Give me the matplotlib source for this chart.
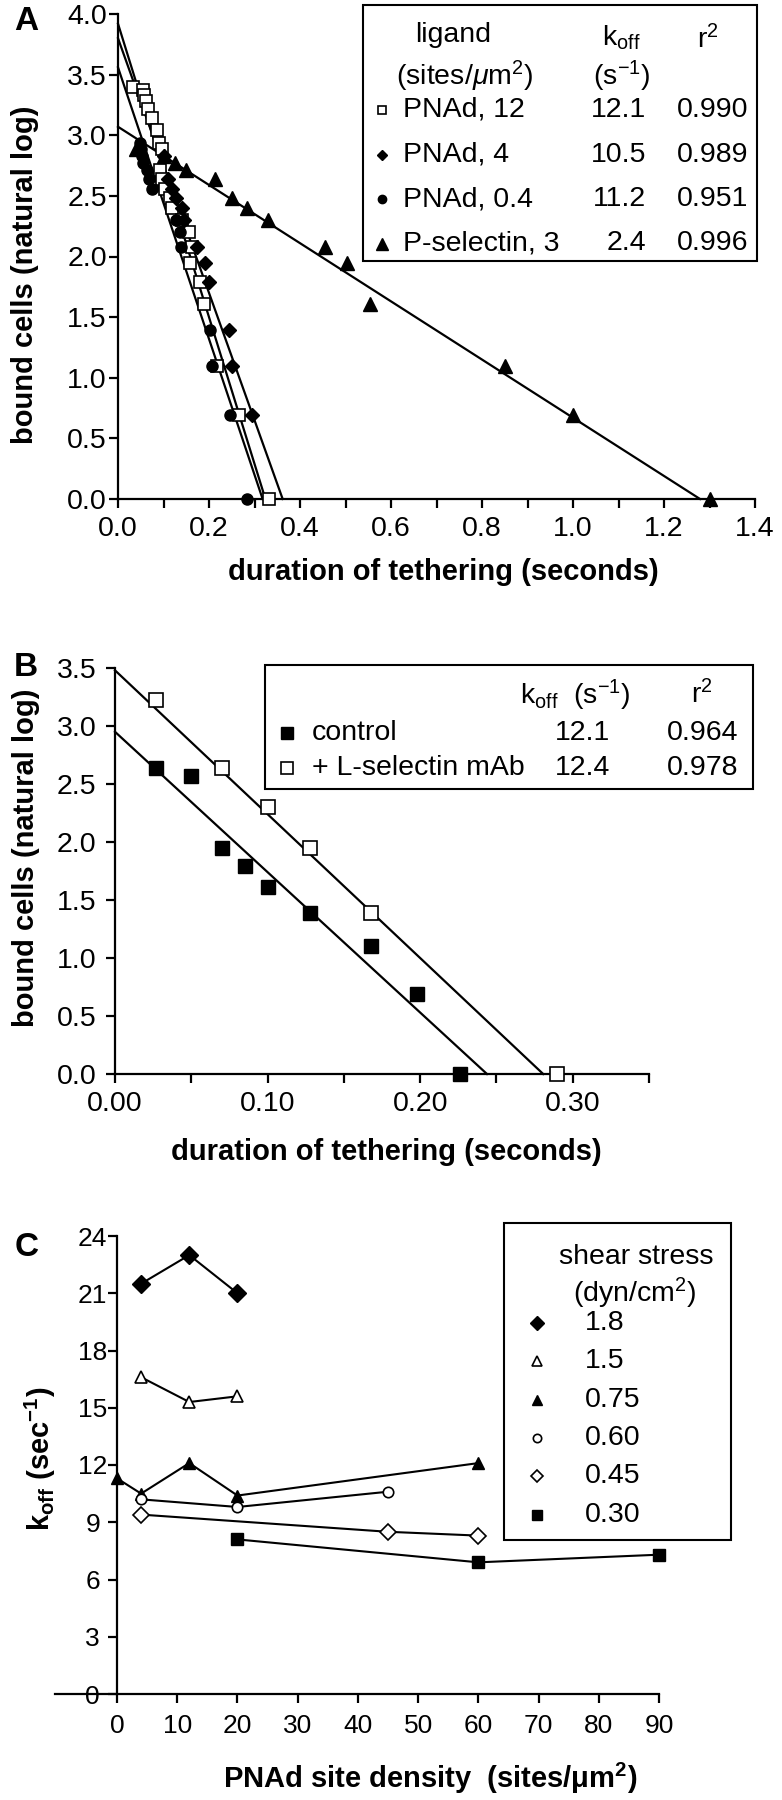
import numpy as np
import matplotlib
matplotlib.use("Agg")
import matplotlib.pyplot as plt
from matplotlib.lines import Line2D
from matplotlib.patches import Rectangle

# ---------- data : panel A (ln of bound cells vs tether duration) ----------
a_sq_x = [0.034, 0.054, 0.057, 0.062, 0.065, 0.074, 0.085, 0.091, 0.096, 0.092, 0.096, 0.103,
          0.114, 0.118, 0.140, 0.155, 0.162, 0.158, 0.180, 0.188, 0.217, 0.267, 0.332]
a_sq_y = [3.40, 3.37, 3.33, 3.28, 3.22, 3.14, 3.04, 2.94, 2.89, 2.71, 2.64, 2.56,
          2.48, 2.40, 2.30, 2.20, 2.08, 1.95, 1.79, 1.61, 1.10, 0.69, 0.00]
a_di_x = [0.100, 0.110, 0.118, 0.128, 0.140, 0.145, 0.173, 0.192, 0.200, 0.243, 0.250, 0.294]
a_di_y = [2.83, 2.64, 2.56, 2.48, 2.40, 2.30, 2.08, 1.95, 1.79, 1.39, 1.10, 0.69]
a_ci_x = [0.048, 0.050, 0.053, 0.056, 0.063, 0.069, 0.074, 0.127, 0.136, 0.138, 0.202, 0.206, 0.246, 0.283]
a_ci_y = [2.94, 2.89, 2.83, 2.77, 2.71, 2.64, 2.56, 2.30, 2.20, 2.08, 1.39, 1.10, 0.69, 0.00]
a_tr_x = [0.040, 0.100, 0.125, 0.150, 0.213, 0.250, 0.283, 0.330, 0.455, 0.503, 0.554, 0.850, 1.000, 1.300]
a_tr_y = [2.89, 2.83, 2.77, 2.71, 2.64, 2.48, 2.40, 2.30, 2.08, 1.95, 1.61, 1.10, 0.69, 0.00]
a_names = ["PNAd, 12", "PNAd, 4", "PNAd, 0.4", "P-selectin, 3"]
a_koff = [12.1, 10.5, 11.2, 2.4]
a_r2 = ["0.990", "0.989", "0.951", "0.996"]
a_icpt = [3.92, 3.80, 3.56, 3.07]      # fitted line at t = 0
a_xticks = [0.0, 0.1, 0.2, 0.3, 0.4, 0.5, 0.6, 0.7, 0.8, 0.9, 1.0, 1.1, 1.2, 1.3, 1.4]
a_xlabels = ["0.0", "", "0.2", "", "0.4", "", "0.6", "", "0.8", "", "1.0", "", "1.2", "", "1.4"]
a_yticks = [0.0, 0.5, 1.0, 1.5, 2.0, 2.5, 3.0, 3.5, 4.0]

# ---------- data : panel B ----------
b_ctl_x = [0.027, 0.050, 0.070, 0.085, 0.100, 0.128, 0.168, 0.198, 0.226]
b_ctl_y = [2.64, 2.57, 1.95, 1.79, 1.61, 1.39, 1.10, 0.69, 0.00]
b_mab_x = [0.027, 0.070, 0.100, 0.128, 0.168, 0.290]
b_mab_y = [3.22, 2.64, 2.30, 1.95, 1.39, 0.00]
b_names = ["control", "+ L-selectin mAb"]
b_koff = [12.1, 12.4]
b_r2 = ["0.964", "0.978"]
b_icpt = [2.95, 3.48]
b_xticks = [0.00, 0.05, 0.10, 0.15, 0.20, 0.25, 0.30, 0.35]
b_xlabels = ["0.00", "", "0.10", "", "0.20", "", "0.30", ""]
b_yticks = [0.0, 0.5, 1.0, 1.5, 2.0, 2.5, 3.0, 3.5]

# ---------- data : panel C (koff vs PNAd density, per shear stress) ----------
c_labels = ["1.8", "1.5", "0.75", "0.60", "0.45", "0.30"]
c_x = [[4, 12, 20],
       [4, 12, 20],
       [0, 4, 12, 20, 60],
       [4, 20, 45],
       [4, 45, 60],
       [20, 60, 90]]
c_y = [[21.5, 23.0, 21.0],
       [16.6, 15.3, 15.6],
       [11.3, 10.5, 12.1, 10.4, 12.1],
       [10.2, 9.8, 10.6],
       [9.4, 8.5, 8.3],
       [8.1, 6.9, 7.3]]
c_xticks = [0, 10, 20, 30, 40, 50, 60, 70, 80, 90]
c_yticks = [0, 3, 6, 9, 12, 15, 18, 21, 24]

# ---------- style ----------
W, H = 782, 1800
plt.rcParams['font.family'] = ['Liberation Sans', 'DejaVu Sans']
plt.rcParams['mathtext.fontset'] = 'custom'
plt.rcParams['mathtext.rm'] = 'Liberation Sans'
plt.rcParams['mathtext.it'] = 'Liberation Sans:italic'
plt.rcParams['mathtext.bf'] = 'Liberation Sans:bold'
FS = 20.5      # legend text
TFS = 20.5     # tick labels, panels A and B
LFS = 21       # axis titles
LW = 1.6

fig = plt.figure(figsize=(W/100, H/100), dpi=100)

def fx(x): return x / W
def fy(y): return 1 - y / H
def rect(x0, y0, x1, y1): return [fx(x0), fy(y1), fx(x1) - fx(x0), fy(y0) - fy(y1)]

def style(ax, pad_x, pad_y, size):
    for s in ("top", "right"):
        ax.spines[s].set_visible(False)
    for s in ("left", "bottom"):
        ax.spines[s].set_linewidth(LW)
    ax.tick_params(direction="out", length=6.5, width=LW, labelsize=size)
    ax.tick_params(axis="x", pad=pad_x)
    ax.tick_params(axis="y", pad=pad_y)

def ftext(x, y, s, **kw):
    kw.setdefault("size", FS)
    kw.setdefault("va", "center")
    fig.text(fx(x), fy(y), s, **kw)

def fmark(x, y, **kw):
    fig.add_artist(Line2D([fx(x)], [fy(y)], linestyle="none", color="black", **kw))

def fbox(x0, y0, x1, y1):
    fig.add_artist(Rectangle((fx(x0), fy(y1)), fx(x1) - fx(x0), fy(y0) - fy(y1),
                             fill=False, lw=1.5, ec="black", transform=fig.transFigure))

OPEN = dict(mfc="white", mec="black", mew=1.2)
FILL = dict(mfc="black", mec="black")

# ================= panel A =================
axA = fig.add_axes(rect(118, 14, 755, 499))
style(axA, 6, 1.5, TFS)
a_sets = [(a_sq_x, a_sq_y, dict(marker="s", ms=8, **OPEN)),
          (a_di_x, a_di_y, dict(marker="D", ms=7.5, **FILL)),
          (a_ci_x, a_ci_y, dict(marker="o", ms=8, **FILL)),
          (a_tr_x, a_tr_y, dict(marker="^", ms=10, **FILL))]
for (xs, ys, mk), b0, k in zip(a_sets, a_icpt, a_koff):
    t = np.array([0.0, b0 / k])
    axA.plot(t, b0 - k * t, color="black", lw=LW, zorder=2, clip_on=False)
for xs, ys, mk in a_sets:
    axA.plot(xs, ys, linestyle="none", color="black", zorder=3, clip_on=False, **mk)
axA.set_xlim(0, 1.4)
axA.set_ylim(0, 4.0)
axA.set_xticks(a_xticks)
axA.set_xticklabels(a_xlabels)
axA.set_yticks(a_yticks)
axA.set_yticklabels(["%.1f" % v for v in a_yticks])

ftext(26, 22, "A", size=24, weight="bold", ha="center")
ftext(25, 275, "bound cells (natural log)", size=LFS, weight="bold", rotation=90, ha="center")
ftext(443, 572, "duration of tethering (seconds)", size=LFS, weight="bold", ha="center")

fbox(363, 5, 757, 261)
ftext(453, 35, "ligand", ha="center")
ftext(465, 76, r"(sites/$\mu$m$^{2}$)", ha="center")
ftext(621, 38, r"k$_{\mathrm{off}}$", ha="center")
ftext(622, 76, r"(s$^{-1}$)", ha="center")
ftext(708, 40, r"r$^{2}$", ha="center")
a_leg_mk = [dict(marker="s", ms=6, **OPEN), dict(marker="D", ms=5.5, **FILL),
            dict(marker="o", ms=6, **FILL), dict(marker="^", ms=8, **FILL)]
for i, (nm, k, r2, mk) in enumerate(zip(a_names, a_koff, a_r2, a_leg_mk)):
    yy = 110 + i * 44.5
    fmark(382, yy, **mk)
    ftext(403, yy, nm, ha="left")
    ftext(646, yy, "%.1f" % k, ha="right")
    ftext(748, yy, r2, ha="right")

# ================= panel B =================
axB = fig.add_axes(rect(115, 668, 649, 1074))
style(axB, 6, 7, TFS)
for b0, k in zip(b_icpt, b_koff):
    t = np.array([0.0, b0 / k])
    axB.plot(t, b0 - k * t, color="black", lw=LW, zorder=2, clip_on=False)
axB.plot(b_ctl_x, b_ctl_y, linestyle="none", color="black", marker="s", ms=10, zorder=3,
         clip_on=False, **FILL)
axB.plot(b_mab_x, b_mab_y, linestyle="none", color="black", marker="s", ms=10, zorder=3,
         clip_on=False, **OPEN)
axB.set_xlim(0, 0.35)
axB.set_ylim(0, 3.5)
axB.set_xticks(b_xticks)
axB.set_xticklabels(b_xlabels)
axB.set_yticks(b_yticks)
axB.set_yticklabels(["%.1f" % v for v in b_yticks])

ftext(26, 668, "B", size=24, weight="bold", ha="center")
ftext(26, 858, "bound cells (natural log)", size=LFS, weight="bold", rotation=90, ha="center")
ftext(386, 1152, "duration of tethering (seconds)", size=LFS, weight="bold", ha="center")

fbox(265, 665, 753, 789)
ftext(520, 695, r"k$_{\mathrm{off}}$  (s$^{-1}$)", ha="left")
ftext(702, 695, r"r$^{2}$", ha="center")
b_leg_mk = [dict(marker="s", ms=9, **FILL), dict(marker="s", ms=9, **OPEN)]
for i, (nm, k, r2, mk) in enumerate(zip(b_names, b_koff, b_r2, b_leg_mk)):
    yy = 733 + i * 35
    fmark(287, yy, **mk)
    ftext(312, yy, nm, ha="left")
    ftext(610, yy, "%.1f" % k, ha="right")
    ftext(738, yy, r2, ha="right")

# ================= panel C =================
axC = fig.add_axes(rect(55, 1236, 659, 1694))
style(axC, 8, 11, 19)
axC.spines["left"].set_position(("data", 0))
axC.set_xlim(-10.3, 90)
axC.set_ylim(0, 24)
c_mk = [dict(marker="D", ms=9, **FILL), dict(marker="^", ms=8, **OPEN),
        dict(marker="^", ms=8.5, **FILL), dict(marker="o", ms=7.5, **OPEN),
        dict(marker="D", ms=8, **OPEN), dict(marker="s", ms=8, **FILL)]
for xs, ys, mk in zip(c_x, c_y, c_mk):
    axC.plot(xs, ys, color="black", lw=1.5, clip_on=False, zorder=3, **mk)
axC.set_xticks(c_xticks)
axC.set_xticklabels([str(v) for v in c_xticks])
axC.set_yticks(c_yticks)
axC.set_yticklabels([str(v) for v in c_yticks])
for lab in axC.get_yticklabels():
    lab.set_horizontalalignment("center")

ftext(27, 1248, "C", size=24, weight="bold", ha="center")
ftext(40, 1459, r"k$_{\mathbf{off}}$ (sec$^{\mathbf{-1}}$)", size=LFS, weight="bold",
      rotation=90, ha="center")
ftext(430, 1778, r"PNAd site density  (sites/$\mathbf{\mu}$m$^{\mathbf{2}}$)", size=LFS,
      weight="bold", ha="center")

fbox(504, 1223, 731, 1540)
ftext(636, 1257, "shear stress", ha="center")
ftext(635, 1293, r"(dyn/cm$^{2}$)", ha="center")
c_leg_mk = [dict(marker="D", ms=7, **FILL), dict(marker="^", ms=6.5, **OPEN),
            dict(marker="^", ms=7, **FILL), dict(marker="o", ms=6, **OPEN),
            dict(marker="D", ms=6.5, **OPEN), dict(marker="s", ms=7, **FILL)]
for i, (lb, mk) in enumerate(zip(c_labels, c_leg_mk)):
    yy = 1323 + i * 38.3
    fmark(537, yy, **mk)
    ftext(585, yy, lb, ha="left")

fig.savefig("out.png", dpi=100)
